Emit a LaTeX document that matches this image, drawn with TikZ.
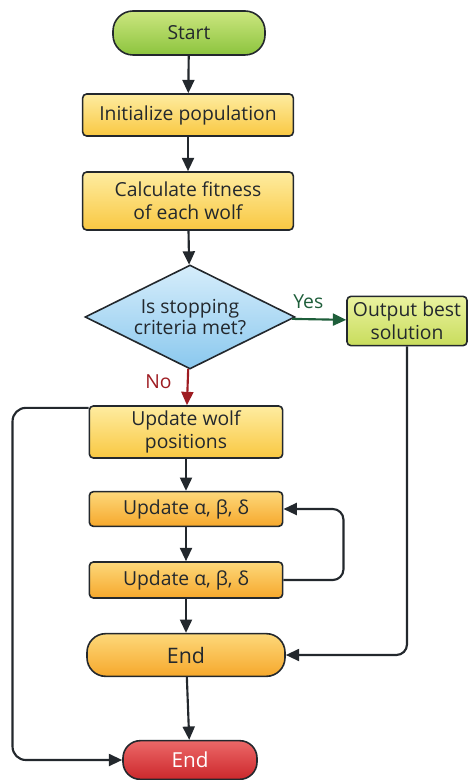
\documentclass[tikz,border=0pt]{standalone}
\usepackage{fontspec}
\setmainfont{Open Sans}
\usetikzlibrary{arrows.meta}
\usetikzlibrary{shapes.geometric}
\definecolor{linecol}{HTML}{23282D}
\definecolor{yescol}{HTML}{1E5E3A}
\definecolor{nocol}{HTML}{9E1C22}
\tikzstyle{box} = [draw=linecol, line width=1.2pt, rounded corners=3pt, align=center, inner sep=2pt]
\tikzstyle{yellowbox} = [box, top color={rgb,255:red,254;green,236;blue,160}, bottom color={rgb,255:red,249;green,200;blue,66}]
\tikzstyle{orangebox} = [box, top color={rgb,255:red,253;green,216;blue,122}, bottom color={rgb,255:red,246;green,168;blue,44}]
\tikzstyle{pill} = [box, rounded corners=15pt]
\tikzstyle{arrow} = [-{Triangle[length=10pt, width=9pt]}, draw=linecol, line width=1.6pt]

\begin{document}
\begin{tikzpicture}[x=0.75pt, y=-0.75pt, font=\fontsize{14.5}{17}\selectfont, text=linecol]
	\useasboundingbox (0,0) rectangle (467,780);

	\node (start) at(189,33) [pill, minimum width=114pt, minimum height=33pt, top color={rgb,255:red,204;green,230;blue,128}, bottom color={rgb,255:red,140;green,196;blue,62}] {Start};
	\node (init) at(188,115) [yellowbox, minimum width=158pt, minimum height=31.5pt] {Initialize population};
	\node (calc) at(188,201) [yellowbox, minimum width=158pt, minimum height=43.5pt] {Calculate fitness\\of each wolf};
	\node (stop) at(190,317) [diamond, shape aspect=2, draw=linecol, line width=1.2pt, inner sep=0pt, minimum width=157.5pt, minimum height=78pt, align=center, font=\fontsize{14.5}{16}\selectfont, top color={rgb,255:red,214;green,237;blue,251}, bottom color={rgb,255:red,138;green,200;blue,238}] {Is stopping\\criteria met?};
	\node (best) at(407,321) [box, minimum width=90pt, minimum height=37pt, top color={rgb,255:red,234;green,243;blue,160}, bottom color={rgb,255:red,200;green,220;blue,92}] {Output best\\solution};

	\node (wolf) at(186,432) [yellowbox, minimum width=145pt, minimum height=39pt] {Update wolf\\positions};
	\node (upd1) at(186,509) [orangebox, minimum width=145pt, minimum height=26pt] {Update α, β, δ};
	\node (upd2) at(186,580) [orangebox, minimum width=145pt, minimum height=27pt] {Update α, β, δ};
	\node (endo) at(186,655) [orangebox, rounded corners=14pt, minimum width=148.5pt, minimum height=32pt, font=\fontsize{16}{18}\selectfont] {End};
	\node (endr) at(190,760) [pill, rounded corners=13pt, minimum width=100.5pt, minimum height=29pt, top color={rgb,255:red,236;green,104;blue,104}, bottom color={rgb,255:red,204;green,40;blue,44}, text=white, font=\fontsize{15.5}{18}\selectfont] {End};

	\draw[arrow] (start) -- (init);
	\draw[arrow] (init) -- (calc);
	\draw[arrow] (calc) -- (stop);
	\draw[arrow, draw=yescol, fill=yescol] (stop) -- node[pos=0.3, above=4pt, text=yescol] {Yes} (best);
	\draw[arrow, draw=nocol, fill=nocol] (stop) -- node[pos=0.35, left=8pt, text=nocol] {No} (wolf);

	\draw[arrow] (wolf) -- (upd1);
	\draw[arrow] (upd1) -- (upd2);
	\draw[arrow] (upd2) -- (endo);
	\draw[arrow] (endo) -- (endr);

	\draw[arrow, rounded corners=8pt] (upd2.east) -- ++(60,0) |- (upd1.east);
	\draw[arrow, rounded corners=8pt] (best.south) |- (endo.east);
	\draw[arrow, rounded corners=10pt] ([yshift=-2pt]wolf.north west) -- ++(-76,0) |- (endr.west);
\end{tikzpicture}
\end{document}
